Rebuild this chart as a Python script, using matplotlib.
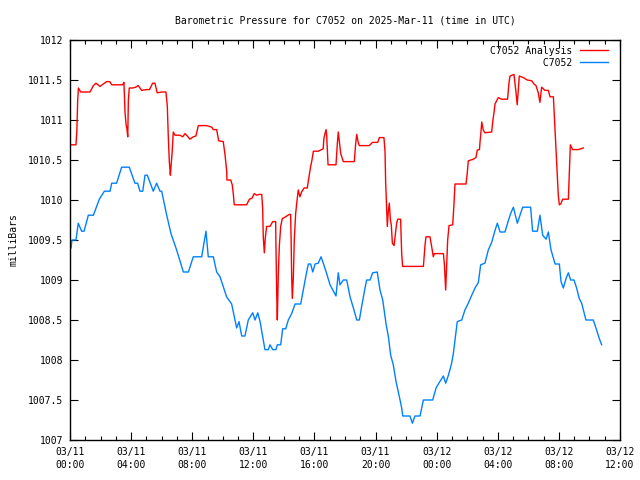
import matplotlib
matplotlib.use('Agg')
import matplotlib.pyplot as plt
import matplotlib.dates as mdates
import pandas as pd

START = pd.Timestamp('2025-03-11 00:00')

# hours since 03/11 00:00 UTC, pressure in mb
obs_hours = [0.07, 0.13, 0.39, 0.54, 0.76, 0.92, 1.2, 1.53, 1.92, 2.25, 2.62, 2.73, 3.05, 3.38,
             3.88, 4.25, 4.43, 4.58, 4.76, 4.91, 5.06, 5.45, 5.67, 5.89, 6.0, 6.33, 6.61, 6.98,
             7.42, 7.75, 8.07, 8.62, 8.9, 9.05, 9.38, 9.6, 9.82, 10.25, 10.58, 10.91, 11.06,
             11.24, 11.45, 11.67, 11.96, 12.11, 12.29, 12.44, 12.65, 12.76, 12.98, 13.09, 13.27,
             13.48, 13.57, 13.79, 13.92, 14.12, 14.29, 14.51, 14.73, 15.1, 15.27, 15.45, 15.6,
             15.75, 15.89, 16.04, 16.25, 16.43, 16.58, 16.8, 17.02, 17.13, 17.41, 17.56, 17.67,
             17.89, 18.11, 18.33, 18.55, 18.77, 18.94, 19.09, 19.31, 19.42, 19.64, 19.81, 20.11,
             20.29, 20.47, 20.68, 20.84, 20.99, 21.16, 21.34, 21.56, 21.71, 21.78, 22.25, 22.41,
             22.58, 22.91, 23.13, 23.74, 23.96, 24.11, 24.44, 24.59, 24.77, 24.98, 25.09, 25.2,
             25.35, 25.64, 25.85, 26.07, 26.25, 26.51, 26.73, 26.88, 27.16, 27.38, 27.6, 27.82,
             27.97, 28.15, 28.47, 28.69, 28.84, 29.02, 29.28, 29.63, 30.15, 30.28, 30.59, 30.76,
             30.94, 31.16, 31.31, 31.48, 31.75, 32.03, 32.14, 32.29, 32.47, 32.62, 32.77, 32.99,
             33.16, 33.33, 33.49, 33.77, 34.25, 34.47, 34.64, 34.8]
obs_mb = [1009.40, 1009.50, 1009.50, 1009.71, 1009.61, 1009.61, 1009.81, 1009.81, 1010.01,
          1010.11, 1010.11, 1010.21, 1010.21, 1010.41, 1010.41, 1010.21, 1010.21, 1010.11,
          1010.11, 1010.31, 1010.31, 1010.11, 1010.21, 1010.11, 1010.11, 1009.81, 1009.58,
          1009.375, 1009.10, 1009.10, 1009.29, 1009.29, 1009.61, 1009.29, 1009.29, 1009.10,
          1009.04, 1008.79, 1008.70, 1008.40, 1008.48, 1008.30, 1008.30, 1008.50, 1008.59,
          1008.50, 1008.59, 1008.48, 1008.25, 1008.13, 1008.13, 1008.19, 1008.13, 1008.13,
          1008.19, 1008.19, 1008.39, 1008.39, 1008.50, 1008.58, 1008.70, 1008.70, 1008.875,
          1009.06, 1009.20, 1009.20, 1009.10, 1009.20, 1009.21, 1009.29, 1009.21, 1009.08,
          1008.94, 1008.90, 1008.80, 1009.09, 1008.94, 1009.0, 1009.0, 1008.79, 1008.65,
          1008.50, 1008.50, 1008.67, 1008.90, 1009.0, 1009.0, 1009.09, 1009.10, 1008.875,
          1008.75, 1008.46, 1008.29, 1008.06, 1007.94, 1007.73, 1007.54, 1007.40, 1007.30,
          1007.30, 1007.21, 1007.30, 1007.30, 1007.50, 1007.50, 1007.65, 1007.70, 1007.80,
          1007.71, 1007.81, 1007.96, 1008.08, 1008.25, 1008.48, 1008.50, 1008.625, 1008.71,
          1008.79, 1008.90, 1008.97, 1009.19, 1009.21, 1009.375, 1009.47, 1009.62, 1009.71,
          1009.60, 1009.60, 1009.74, 1009.83, 1009.91, 1009.71, 1009.91, 1009.91, 1009.61,
          1009.61, 1009.81, 1009.56, 1009.51, 1009.60, 1009.38, 1009.20, 1009.20, 1008.98,
          1008.90, 1009.02, 1009.09, 1009.0, 1009.0, 1008.90, 1008.77, 1008.71, 1008.50,
          1008.50, 1008.375, 1008.27, 1008.19]

ana_hours = [0.07, 0.39, 0.45, 0.5, 0.55, 0.7, 1.31, 1.53, 1.7, 1.96, 2.4, 2.6, 2.73, 3.16, 3.45,
             3.53, 3.6, 3.67, 3.72, 3.78, 3.82, 3.88, 4.1, 4.3, 4.47, 4.69, 4.97, 5.2, 5.41, 5.56,
             5.71, 6.0, 6.28, 6.37, 6.43, 6.5, 6.57, 6.61, 6.68, 6.76, 6.87, 7.2, 7.38, 7.53,
             7.68, 7.85, 8.07, 8.24, 8.4, 8.62, 8.95, 9.28, 9.38, 9.6, 9.73, 10.03, 10.15, 10.26,
             10.27, 10.52, 10.62, 10.69, 10.75, 11.56, 11.74, 11.9, 12.06, 12.22, 12.39, 12.55,
             12.61, 12.65, 12.72, 12.78, 12.87, 13.09, 13.27, 13.46, 13.48, 13.53, 13.57, 13.63,
             13.7, 13.79, 13.9, 14.03, 14.35, 14.44, 14.47, 14.51, 14.55, 14.62, 14.68, 14.77,
             14.84, 14.94, 15.05, 15.16, 15.32, 15.53, 15.66, 15.75, 15.82, 15.93, 16.25, 16.47,
             16.57, 16.62, 16.69, 16.76, 16.8, 16.89, 17.41, 17.5, 17.56, 17.63, 17.72, 17.89,
             18.61, 18.7, 18.77, 18.85, 18.94, 19.59, 19.79, 20.14, 20.25, 20.55, 20.62, 20.66,
             20.73, 20.77, 20.83, 20.9, 20.97, 21.03, 21.1, 21.21, 21.3, 21.38, 21.45, 21.64,
             21.71, 21.77, 23.13, 23.18, 23.24, 23.3, 23.56, 23.67, 23.78, 23.85, 24.44, 24.5,
             24.59, 24.66, 24.72, 24.81, 25.05, 25.13, 25.2, 25.57, 25.92, 26.0, 26.07, 26.4,
             26.57, 26.66, 26.8, 26.84, 26.9, 26.95, 27.05, 27.16, 27.6, 27.67, 27.75, 27.82,
             28.03, 28.25, 28.64, 28.73, 28.8, 29.06, 29.19, 29.27, 29.33, 29.41, 29.67, 29.93,
             30.22, 30.37, 30.5, 30.65, 30.76, 30.87, 31.09, 31.31, 31.42, 31.64, 31.75, 31.81,
             31.9, 31.96, 32.03, 32.12, 32.25, 32.62, 32.68, 32.75, 32.9, 33.27, 33.6]
ana_mb = [1010.69, 1010.69, 1010.87, 1011.23, 1011.40, 1011.35, 1011.35, 1011.43, 1011.46,
          1011.42, 1011.48, 1011.48, 1011.44, 1011.44, 1011.44, 1011.47, 1011.10, 1010.94,
          1010.90, 1010.79, 1011.25, 1011.40, 1011.40, 1011.41, 1011.43, 1011.37, 1011.38,
          1011.38, 1011.46, 1011.46, 1011.34, 1011.35, 1011.35, 1011.17, 1010.81, 1010.48,
          1010.31, 1010.42, 1010.58, 1010.85, 1010.81, 1010.81, 1010.79, 1010.83, 1010.80,
          1010.76, 1010.79, 1010.80, 1010.93, 1010.93, 1010.93, 1010.91, 1010.88, 1010.88,
          1010.74, 1010.73, 1010.56, 1010.35, 1010.25, 1010.25, 1010.19, 1010.075, 1009.94,
          1009.94, 1010.01, 1010.02, 1010.08, 1010.06, 1010.07, 1010.07, 1009.90, 1009.54,
          1009.34, 1009.52, 1009.67, 1009.67, 1009.73, 1009.73, 1009.42, 1008.83, 1008.50,
          1009.04, 1009.42, 1009.67, 1009.77, 1009.78, 1009.82, 1009.82, 1009.54, 1009.04,
          1008.77, 1009.04, 1009.50, 1009.83, 1009.96, 1010.125, 1010.04, 1010.10, 1010.15,
          1010.15, 1010.31, 1010.42, 1010.48, 1010.61, 1010.61, 1010.63, 1010.64, 1010.77,
          1010.83, 1010.88, 1010.81, 1010.44, 1010.44, 1010.71, 1010.85, 1010.73, 1010.58,
          1010.48, 1010.48, 1010.71, 1010.82, 1010.73, 1010.68, 1010.68, 1010.72, 1010.72,
          1010.78, 1010.78, 1010.60, 1010.23, 1009.875, 1009.67, 1009.85, 1009.96, 1009.75,
          1009.69, 1009.46, 1009.43, 1009.58, 1009.71, 1009.76, 1009.76, 1009.33, 1009.17,
          1009.17, 1009.29, 1009.44, 1009.54, 1009.54, 1009.42, 1009.29, 1009.33, 1009.33,
          1009.21, 1008.875, 1009.21, 1009.50, 1009.68, 1009.69, 1009.94, 1010.20, 1010.20,
          1010.20, 1010.33, 1010.49, 1010.51, 1010.53, 1010.625, 1010.63, 1010.73, 1010.85,
          1010.975, 1010.875, 1010.84, 1010.85, 1010.98, 1011.09, 1011.20, 1011.28, 1011.26,
          1011.26, 1011.46, 1011.55, 1011.57, 1011.35, 1011.19, 1011.35, 1011.55, 1011.53,
          1011.50, 1011.49, 1011.45, 1011.43, 1011.34, 1011.22, 1011.41, 1011.37, 1011.37,
          1011.29, 1011.29, 1010.875, 1010.625, 1010.33, 1010.06, 1009.94, 1009.95, 1010.01,
          1010.01, 1010.33, 1010.69, 1010.63, 1010.63, 1010.65]

series_names = ['C7052 Analysis', 'C7052']

y_ticks = [1007, 1007.5, 1008, 1008.5, 1009, 1009.5, 1010, 1010.5, 1011, 1011.5, 1012]
y_labels = ['1007', '1007.5', '1008', '1008.5', '1009', '1009.5', '1010', '1010.5',
            '1011', '1011.5', '1012']


def to_times(hours):
    return START + pd.to_timedelta(hours, unit='h')


plt.rcParams['font.family'] = 'DejaVu Sans Mono'
plt.rcParams['font.size'] = 7

fig = plt.figure(figsize=(6.4, 4.8), dpi=100)
ax = fig.add_axes([70 / 640, 40 / 480, 550 / 640, 400 / 480])

# monospace font: pad names on the left so the key text is right-justified like gnuplot
width = max(len(n) for n in series_names)
keys = [n.rjust(width) for n in series_names]

ax.plot(to_times(ana_hours), ana_mb, color='#ff0000', linewidth=1, label=keys[0])
ax.plot(to_times(obs_hours), obs_mb, color='#0080ff', linewidth=1, label=keys[1])

ax.set_xlim(START, START + pd.Timedelta(hours=36))
ax.set_ylim(1007, 1012)
ax.set_yticks(y_ticks)
ax.set_yticklabels(y_labels)
ax.xaxis.set_major_locator(mdates.HourLocator(byhour=range(0, 24, 4)))
ax.xaxis.set_minor_locator(mdates.HourLocator())
ax.xaxis.set_major_formatter(mdates.DateFormatter('%m/%d\n%H:%M'))

ax.tick_params(which='major', direction='in', length=6, width=0.8, top=True, right=True,
               pad=5, colors='black')
ax.tick_params(which='minor', direction='in', length=3, width=0.8, top=True, right=True)
for lab in ax.get_xticklabels():
    lab.set_linespacing(1.35)
for sp in ax.spines.values():
    sp.set_linewidth(1)

ax.set_title('Barometric Pressure for C7052 on 2025-Mar-11 (time in UTC)', fontsize=7, pad=12)
ax.set_ylabel('milliBars')
ax.yaxis.set_label_coords(-0.094, 0.5)

ax.legend(loc='upper right', bbox_to_anchor=(0.986, 0.9955), borderaxespad=0,
          frameon=False, markerfirst=False, handlelength=2.9,
          handletextpad=0.8, labelspacing=0.2, fontsize=7)

fig.savefig('out.png', dpi=100)
plt.close(fig)
